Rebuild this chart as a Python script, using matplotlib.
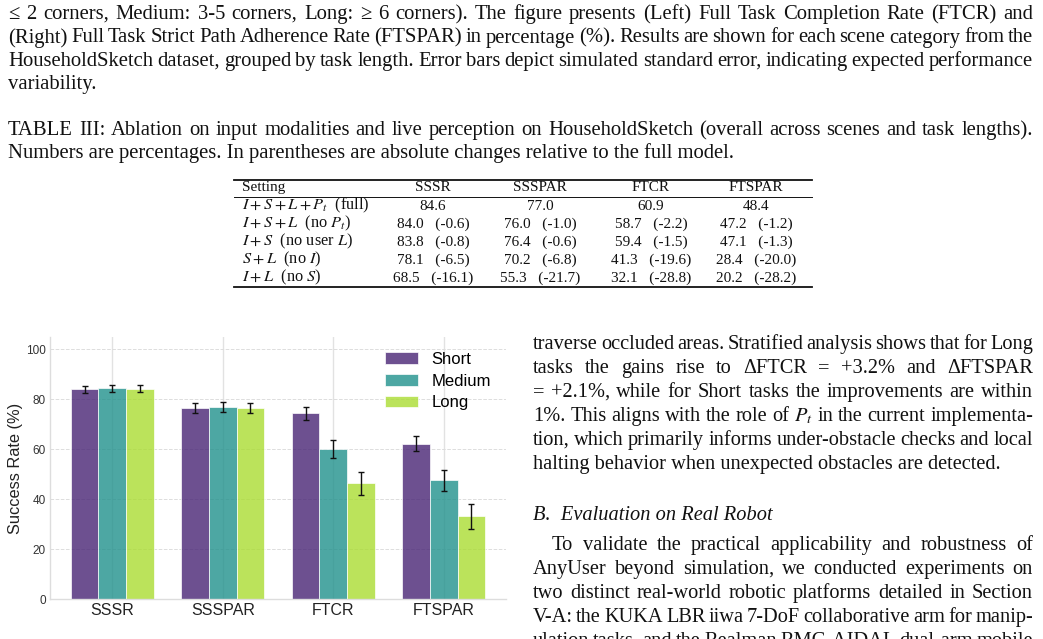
import numpy as np
import matplotlib
matplotlib.use("Agg")
import matplotlib.pyplot as plt
from matplotlib.lines import Line2D

plt.rcParams['mathtext.fontset'] = 'stix'

W, H = 1043, 639
SERIF = ['Liberation Serif', 'DejaVu Serif']
SANS = ['Liberation Sans', 'DejaVu Sans']

# chart data
metrics = ['SSSR', 'SSSPAR', 'FTCR', 'FTSPAR']
lengths = ['Short', 'Medium', 'Long']
short = [84.0, 76.6, 74.4, 62.3]
medium = [84.4, 76.9, 60.0, 47.6]
long_ = [84.2, 76.6, 46.4, 33.2]
err_short = [1.4, 1.9, 2.5, 3.0]
err_medium = [1.4, 1.9, 3.6, 4.1]
err_long = [1.4, 1.9, 4.5, 5.0]
colors = ['#482475', '#21918c', '#aadc32']

# table data
settings = [r'$I+S+L+P_t$  (full)', r'$I+S+L$  (no $P_t$)',
            r'$I+S$  (no user $L$)', r'$S+L$  (no $I$)', r'$I+L$  (no $S$)']
tab_sssr = [84.6, 84.0, 83.8, 78.1, 68.5]
tab_ssspar = [77.0, 76.0, 76.4, 70.2, 55.3]
tab_ftcr = [60.9, 58.7, 59.4, 41.3, 32.1]
tab_ftspar = [48.4, 47.2, 47.1, 28.4, 20.2]

caption_lines = [
    "≤ 2 corners, Medium: 3-5 corners, Long: ≥ 6 corners). The figure presents (Left) Full Task Completion Rate (FTCR) and",
    "(Right) Full Task Strict Path Adherence Rate (FTSPAR) in percentage (%). Results are shown for each scene category from the",
    "HouseholdSketch dataset, grouped by task length. Error bars depict simulated standard error, indicating expected performance",
    "variability.",
]
table_caption = [
    "TABLE III: Ablation on input modalities and live perception on HouseholdSketch (overall across scenes and task lengths).",
    "Numbers are percentages. In parentheses are absolute changes relative to the full model.",
]
para1 = [
    "traverse occluded areas. Stratified analysis shows that for Long",
    "tasks the gains rise to ΔFTCR = +3.2% and ΔFTSPAR",
    "= +2.1%, while for Short tasks the improvements are within",
    r"1%. This aligns with the role of $P_t$ in the current implementa-",
    "tion, which primarily informs under-obstacle checks and local",
    "halting behavior when unexpected obstacles are detected.",
]
para2 = [
    "To validate the practical applicability and robustness of",
    "AnyUser beyond simulation, we conducted experiments on",
    "two distinct real-world robotic platforms detailed in Section",
    "V-A: the KUKA LBR iiwa 7-DoF collaborative arm for manip-",
    "ulation tasks, and the Realman RMC-AIDAL dual-arm mobile",
]

fig = plt.figure(figsize=(W / 100, H / 100), dpi=100)
renderer = fig.canvas.get_renderer()


def fx(x):
    return x / W


def fy(y):
    return 1 - y / H


def width_of(s, size, family=SERIF, style='normal'):
    t = fig.text(0, 0, s, fontsize=size, family=family, style=style)
    w = t.get_window_extent(renderer).width
    t.remove()
    return w


def fit(s, target, family=SERIF, style='normal'):
    return 10 * target / width_of(s, 10, family, style)


def put(s, x, y, size, ha='left', family=SERIF, style='normal'):
    return fig.text(fx(x), fy(y), s, fontsize=size, family=family, style=style,
                    ha=ha, va='baseline', color='#111111')


def justify(s, x0, x1, y, size, style='normal'):
    words = s.split(' ')
    arts = [fig.text(0, 0, w, fontsize=size, family=SERIF, style=style,
                     va='baseline', color='#111111') for w in words]
    widths = [a.get_window_extent(renderer).width for a in arts]
    gap = (x1 - x0 - sum(widths)) / (len(words) - 1)
    x = x0
    for a, w in zip(arts, widths):
        a.set_position((fx(x), fy(y)))
        x += w + gap


# figure caption (top)
cap_size = fit(table_caption[1], 725)
cap_base = [19, 42.5, 66, 89.5]
for i, line in enumerate(caption_lines):
    if i < 3:
        justify(line, 8, 1033, cap_base[i], cap_size)
    else:
        put(line, 8, cap_base[i], cap_size)

# table caption
justify(table_caption[0], 8, 1033, 135, cap_size)
put(table_caption[1], 8, 158, cap_size)

# table
tab_size = fit("84.6", 26.5)
lab_size = fit(settings[0], 128)
col_x = [433, 540, 651, 756]
put("Setting", 242, 191, tab_size)
for cx, name in zip(col_x, metrics):
    put(name, cx, 191, tab_size, ha='center')
cols = [tab_sssr, tab_ssspar, tab_ftcr, tab_ftspar]
row_base = [209.5, 227.5, 245.5, 263.5, 281.5]
for r, lab in enumerate(settings):
    put(lab, 242, row_base[r], lab_size)
    for cx, col in zip(col_x, cols):
        if r == 0:
            s = f"{col[r]:.1f}"
        else:
            s = f"{col[r]:.1f}   ({col[r] - col[0]:.1f})"
        put(s, cx, row_base[r], tab_size, ha='center')
for yy, lw in [(180, 1.3), (196.5, 0.7), (287, 1.3)]:
    fig.add_artist(Line2D([fx(234), fx(812)], [fy(yy), fy(yy)], color='#111111',
                          lw=lw, transform=fig.transFigure))

# right column text
body_size = fit(para1[-1], 467)
base = 349
for i, line in enumerate(para1):
    if i < len(para1) - 1:
        justify(line, 533, 1033, base + 24 * i, body_size)
    else:
        put(line, 533, base + 24 * i, body_size)
put("B.  Evaluation on Real Robot", 533, 520, body_size, style='italic')
for i, line in enumerate(para2):
    x0 = 552 if i == 0 else 533
    justify(line, x0, 1033, 550 + 24 * i, body_size)

# bar chart
ax = fig.add_axes([fx(50), fy(599.3), fx(506) - fx(50), fy(337) - fy(599.3)])
x = np.arange(len(metrics))
wbar = 0.25
series = [short, medium, long_]
errs = [err_short, err_medium, err_long]
for k in range(3):
    ax.bar(x + (k - 1) * wbar, series[k], wbar, yerr=errs[k], color=colors[k],
           alpha=0.8, edgecolor='white', linewidth=0.6, label=lengths[k],
           capsize=2.5, error_kw=dict(ecolor='#111111', elinewidth=1, capthick=1),
           zorder=2)

ax.set_ylim(0, 105)
ax.set_yticks([0, 20, 40, 60, 80, 100])
ax.set_xticks(x)
ax.set_xticklabels(metrics, fontsize=11.5, family=SANS, color='#222222')
for t in ax.get_yticklabels():
    t.set_fontsize(8.5)
    t.set_family(SANS)
    t.set_color('#333333')
ax.tick_params(length=0, pad=3)
ax.set_ylabel("Success Rate (%)", fontsize=11.8, family=SANS, color='#222222', labelpad=2)
ax.set_axisbelow(True)
ax.yaxis.grid(True, linestyle='--', color='#dddddd', linewidth=0.7)
ax.xaxis.grid(True, linestyle='-', color='#e2e2e2', linewidth=1)
for side in ['top', 'right']:
    ax.spines[side].set_visible(False)
for side in ['left', 'bottom']:
    ax.spines[side].set_color('#dddddd')
    ax.spines[side].set_linewidth(1)
ax.legend(loc='upper right', frameon=False, prop={'family': SANS, 'size': 12},
          labelspacing=0.4)

fig.savefig("out.png", dpi=100)
